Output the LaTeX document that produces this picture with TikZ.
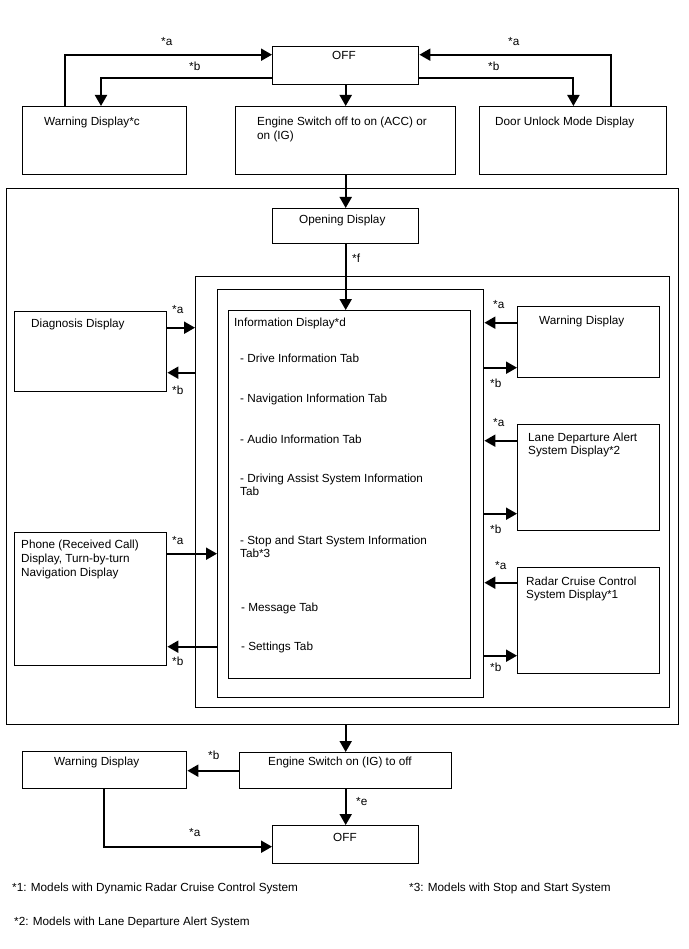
\documentclass[tikz,border=0pt]{standalone}
\usepackage{fontspec}
\setmainfont{Liberation Sans}
\usetikzlibrary{arrows.meta}
\begin{document}
\begin{tikzpicture}[x=1pt,y=-1pt,
  box/.style={draw=black,line width=1.4pt,inner sep=0pt,anchor=north west},
  conn/.style={line width=2pt,-{Triangle[length=11pt,width=12pt]}},
  txt/.style={inner sep=0pt,anchor=base west,font=\fontsize{11.75}{14}\selectfont},
  lbl/.style={inner sep=0pt,anchor=base west,font=\fontsize{11.75}{14}\selectfont}]
\useasboundingbox (0,0) rectangle (688,949);
% boxes
\node[box,minimum width=146pt,minimum height=38pt] (off) at (272,46) {};
\node[box,minimum width=164pt,minimum height=68pt] (warnc) at (22,106) {};
\node[box,minimum width=220pt,minimum height=68pt] (eng) at (235,106) {};
\node[box,minimum width=187pt,minimum height=68pt] (door) at (479,106) {};
\node[box,minimum width=672pt,minimum height=536pt] (outer) at (6,188) {};
\node[box,minimum width=146pt,minimum height=35pt] (open) at (272,208) {};
\node[box,minimum width=474pt,minimum height=431pt] (boxtwo) at (195,276) {};
\node[box,minimum width=266pt,minimum height=408pt] (boxthree) at (217,289) {};
\node[box,minimum width=242pt,minimum height=368pt] (info) at (228,310) {};
\node[box,minimum width=152pt,minimum height=80pt] (diag) at (14,311) {};
\node[box,minimum width=152pt,minimum height=133pt] (phone) at (14,532) {};
\node[box,minimum width=142pt,minimum height=71pt] (warnr) at (517,306) {};
\node[box,minimum width=142pt,minimum height=106pt] (lane) at (517,424) {};
\node[box,minimum width=142pt,minimum height=106pt] (radar) at (517,567) {};
\node[box,minimum width=164pt,minimum height=37pt] (warnb) at (22,751) {};
\node[box,minimum width=212pt,minimum height=36pt] (engb) at (239,752) {};
\node[box,minimum width=146pt,minimum height=38pt] (offb) at (272,825) {};
% texts
\node[txt] (toff) at (332,60) {OFF};
\node[txt] (twarnc) at (44,126) {Warning Display*c};
\node[txt] (teng1) at (257,126) {Engine Switch off to on (ACC) or};
\node[txt] (teng2) at (257,140) {on (IG)};
\node[txt] (tdoor) at (495,126) {Door Unlock Mode Display};
\node[txt] (topen) at (299,224) {Opening Display};
\node[txt] (tdiag) at (31,327) {Diagnosis Display};
\node[txt] (tinfo) at (234,326) {Information Display*d};
\node[txt] (ti1) at (240,362) {- Drive Information Tab};
\node[txt] (ti2) at (240,402) {- Navigation Information Tab};
\node[txt] (ti3) at (240,443) {- Audio Information Tab};
\node[txt] (ti4) at (240,482) {- Driving Assist System Information};
\node[txt] (ti4b) at (240,495) {Tab};
\node[txt] (ti5) at (240,544) {- Stop and Start System Information};
\node[txt] (ti5b) at (240,557) {Tab*3};
\node[txt] (ti6) at (241,611) {- Message Tab};
\node[txt] (ti7) at (241,650) {- Settings Tab};
\node[txt] (tph1) at (21,548) {Phone (Received Call)};
\node[txt] (tph2) at (21,562) {Display, Turn-by-turn};
\node[txt] (tph3) at (21,576) {Navigation Display};
\node[txt] (twr) at (539,324) {Warning Display};
\node[txt] (tl1) at (528,441) {Lane Departure Alert};
\node[txt] (tl2) at (528,454) {System Display*2};
\node[txt] (tr1) at (526,585) {Radar Cruise Control};
\node[txt] (tr2) at (526,598) {System Display*1};
\node[txt] (twb) at (54,765) {Warning Display};
\node[txt] (tengb) at (268,765) {Engine Switch on (IG) to off};
\node[txt] (toffb) at (333,841) {OFF};
\node[txt] (fn1) at (12,891) {*1: Models with Dynamic Radar Cruise Control System};
\node[txt] (fn3) at (409,891) {*3: Models with Stop and Start System};
\node[txt] (fn2) at (14,925) {*2: Models with Lane Departure Alert System};
% labels
\node[lbl] (la1) at (161,46) {*a};
\node[lbl] (lb1) at (189,71) {*b};
\node[lbl] (la2) at (508,46) {*a};
\node[lbl] (lb2) at (488,71) {*b};
\node[lbl] (lf) at (352,263) {*f};
\node[lbl] (la3) at (172,313) {*a};
\node[lbl] (lb3) at (172,394) {*b};
\node[lbl] (la4) at (172,544) {*a};
\node[lbl] (lb4) at (172,665) {*b};
\node[lbl] (la5) at (493,308) {*a};
\node[lbl] (lb5) at (490,387) {*b};
\node[lbl] (la6) at (493,426) {*a};
\node[lbl] (lb6) at (490,533) {*b};
\node[lbl] (la7) at (495,569) {*a};
\node[lbl] (lb7) at (490,671) {*b};
\node[lbl] (lb8) at (208,759) {*b};
\node[lbl] (le) at (356,805) {*e};
\node[lbl] (la8) at (189,836) {*a};
% connectors top
\draw[conn] ([xshift=43pt]warnc.north west) |- ([yshift=11pt]off.west);
\draw[conn] ([yshift=-12pt]off.west) -| ([xshift=79pt]warnc.north west);
\draw[conn] ([xshift=-56pt]door.north east) |- ([yshift=11pt]off.east);
\draw[conn] ([yshift=-12pt]off.east) -| ([xshift=-94pt]door.north east);
\draw[conn] (off.south) -- (eng.north);
\draw[conn] (eng.south) -- (open.north);
\draw[conn] (open.south) -- (open.south |- info.north);
% left side
\draw[conn] ([yshift=24pt]diag.east) -- ([yshift=24pt]diag.east -| boxtwo.west);
\draw[conn] ([yshift=-21pt]diag.east -| boxtwo.west) -- ([yshift=-21pt]diag.east);
\draw[conn] ([yshift=45.5pt]phone.east) -- ([yshift=45.5pt]phone.east -| boxthree.west);
\draw[conn] ([yshift=-47.5pt]phone.east -| boxthree.west) -- ([yshift=-47.5pt]phone.east);
% right side
\draw[conn] ([yshift=19.5pt]warnr.west) -- ([yshift=19.5pt]warnr.west -| boxthree.east);
\draw[conn] ([yshift=-25.5pt]warnr.west -| boxthree.east) -- ([yshift=-25.5pt]warnr.west);
\draw[conn] ([yshift=37pt]lane.west) -- ([yshift=37pt]lane.west -| boxthree.east);
\draw[conn] ([yshift=-36pt]lane.west -| boxthree.east) -- ([yshift=-36pt]lane.west);
\draw[conn] ([yshift=38pt]radar.west) -- ([yshift=38pt]radar.west -| boxthree.east);
\draw[conn] ([yshift=-35pt]radar.west -| boxthree.east) -- ([yshift=-35pt]radar.west);
% bottom
\draw[conn] (outer.south -| engb.north) -- (engb.north);
\draw[conn] (engb.west) -- (engb.west -| warnb.east);
\draw[conn] (engb.south) -- (offb.north);
\draw[conn] ([xshift=82pt]warnb.south west) |- ([yshift=-2pt]offb.west);
\end{tikzpicture}
\end{document}
